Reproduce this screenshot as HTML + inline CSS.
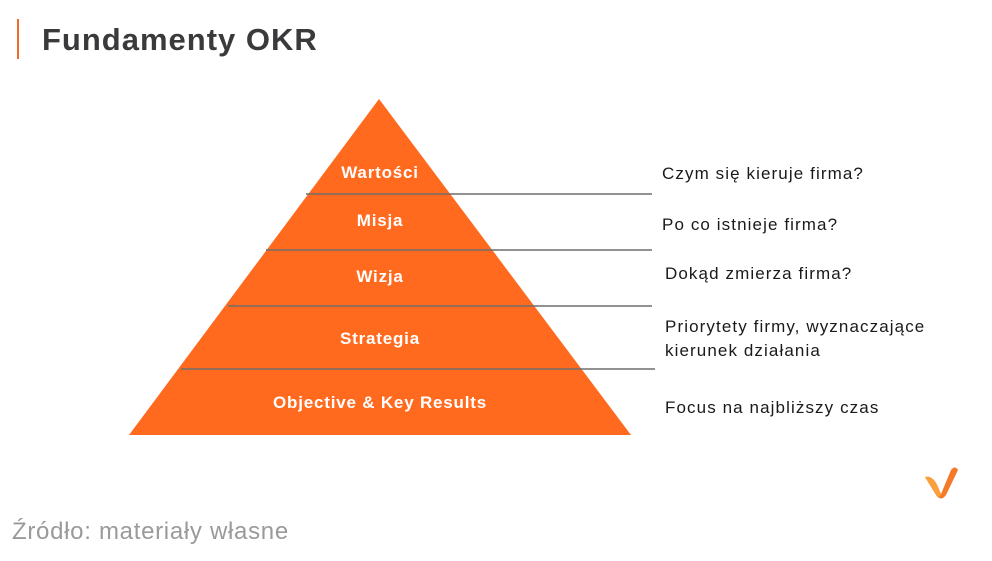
<!DOCTYPE html>
<html><head><meta charset="utf-8"><style>
body{margin:0;background:#fff;width:992px;height:561px;overflow:hidden}
svg{display:block}
</style></head><body>
<svg width="992" height="561" xmlns="http://www.w3.org/2000/svg" font-family="Liberation Sans, sans-serif">
<rect x="17" y="19" width="2" height="40" fill="#f26a2e"/>
<text x="42" y="50" font-size="31" font-weight="bold" fill="#3a3a3c" letter-spacing="1">Fundamenty OKR</text>
<polygon points="379,99 631,435 129,435" fill="#ff6a1f"/>
<g stroke="#6e6e6e" stroke-width="1.5">
<line x1="306" y1="194" x2="652" y2="194"/>
<line x1="266" y1="250" x2="652" y2="250"/>
<line x1="228" y1="306" x2="652" y2="306"/>
<line x1="181" y1="369" x2="655" y2="369"/>
</g>
<g fill="#fff" font-size="17" font-weight="bold" text-anchor="middle" letter-spacing="0.8">
<text x="380" y="178">Wartości</text>
<text x="380" y="226">Misja</text>
<text x="380" y="282">Wizja</text>
<text x="380" y="344">Strategia</text>
<text x="380" y="408">Objective &amp; Key Results</text>
</g>
<g fill="#1a1a1a" font-size="17" letter-spacing="1.1">
<text x="662" y="179">Czym się kieruje firma?</text>
<text x="662" y="230">Po co istnieje firma?</text>
<text x="665" y="279">Dokąd zmierza firma?</text>
<text x="665" y="332">Priorytety firmy, wyznaczające</text>
<text x="665" y="356">kierunek działania</text>
<text x="665" y="413">Focus na najbliższy czas</text>
</g>
<text x="12" y="539" font-size="24" fill="#9a9a9a" letter-spacing="0.7">Źródło: materiały własne</text>
<path d="M925 477 Q933 475 938 487 L941 494 L951 470 Q955 465 958 470 L946 495 Q941 502 936 495 Z" fill="#f47a2a"/>
<path d="M925 477 Q933 475 938 487 L941 494 Q939 500 935 493 Z" fill="#f9a13a"/>
</svg>
</body></html>
